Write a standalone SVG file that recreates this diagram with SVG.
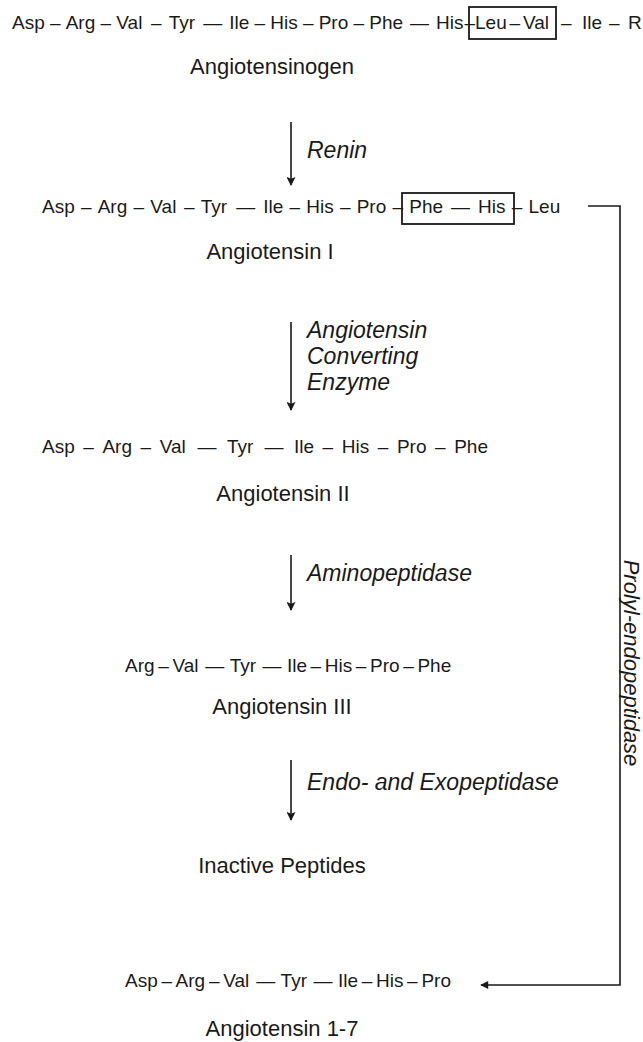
<svg xmlns="http://www.w3.org/2000/svg" width="643" height="1042" viewBox="0 0 643 1042">
<style>
.seq{font-family:"Liberation Sans",Arial,sans-serif;font-size:19px;fill:#1a1a1a}
.name{font-family:"Liberation Sans",Arial,sans-serif;font-size:22px;fill:#1a1a1a;text-anchor:middle}
.enz{font-family:"Liberation Sans",Arial,sans-serif;font-size:23px;font-style:italic;fill:#1a1a1a}
.vert{font-family:"Liberation Sans",Arial,sans-serif;font-size:22px;font-style:italic;fill:#1a1a1a;text-anchor:middle}
.ln{stroke:#1a1a1a;stroke-width:1.6;fill:none}
.box{stroke:#1a1a1a;stroke-width:1.8;fill:none}
</style>
<defs>
<marker id="ah" viewBox="0 0 10 10" refX="9" refY="5" markerWidth="15" markerHeight="9" markerUnits="userSpaceOnUse" orient="auto">
<path d="M0,0 L10,5 L0,10 L2,5 z" fill="#1a1a1a"/>
</marker>
<marker id="ah2" viewBox="0 0 10 10" refX="9" refY="5" markerWidth="18" markerHeight="8" markerUnits="userSpaceOnUse" orient="auto">
<path d="M0,0 L10,5 L0,10 z" fill="#1a1a1a"/>
</marker>
</defs>
<g id="angiotensinogen">
<text class="seq" y="29"><tspan x="12">Asp</tspan><tspan x="49.9">–</tspan><tspan x="65.7">Arg</tspan><tspan x="100.5">–</tspan><tspan x="116.3">Val</tspan><tspan x="151">–</tspan><tspan x="168.8">Tyr</tspan><tspan x="203.2">—</tspan><tspan x="229.2">Ile</tspan><tspan x="254.5">–</tspan><tspan x="270.3">His</tspan><tspan x="302.9">–</tspan><tspan x="318.7">Pro</tspan><tspan x="353.5">–</tspan><tspan x="369.3">Phe</tspan><tspan x="410.1">—</tspan><tspan x="436.1">His</tspan><tspan x="464.5">–</tspan><tspan x="475">Leu</tspan><tspan x="509.5">–</tspan><tspan x="523">Val</tspan><tspan x="561">–</tspan><tspan x="582">Ile</tspan><tspan x="609">–</tspan><tspan x="628">R</tspan></text>
<rect class="box" x="469" y="7" width="87" height="32"/>
<text class="name" x="272" y="74">Angiotensinogen</text>
</g>
<g id="angiotensin1">
<text class="seq" y="213"><tspan x="42">Asp</tspan><tspan x="80.9">–</tspan><tspan x="97.7">Arg</tspan><tspan x="133.5">–</tspan><tspan x="150.3">Val</tspan><tspan x="184">–</tspan><tspan x="200.8">Tyr</tspan><tspan x="236.2">—</tspan><tspan x="263.2">Ile</tspan><tspan x="289.5">–</tspan><tspan x="306.3">His</tspan><tspan x="339.9">–</tspan><tspan x="356.7">Pro</tspan><tspan x="392.5">–</tspan><tspan x="409.3">Phe</tspan><tspan x="451.1">—</tspan><tspan x="478.1">His</tspan><tspan x="511.7">–</tspan><tspan x="528.5">Leu</tspan></text>
<rect class="box" x="402" y="193" width="112" height="31"/>
<text class="name" x="270" y="259">Angiotensin I</text>
</g>
<g id="angiotensin2">
<text class="seq" y="453"><tspan x="42">Asp</tspan><tspan x="83.3">–</tspan><tspan x="102.4">Arg</tspan><tspan x="140.6">–</tspan><tspan x="159.7">Val</tspan><tspan x="197.5">—</tspan><tspan x="226.9">Tyr</tspan><tspan x="264.6">—</tspan><tspan x="294">Ile</tspan><tspan x="322.6">–</tspan><tspan x="341.8">His</tspan><tspan x="377.8">–</tspan><tspan x="396.9">Pro</tspan><tspan x="435">–</tspan><tspan x="454.2">Phe</tspan></text>
<text class="name" x="283" y="501">Angiotensin II</text>
</g>
<g id="angiotensin3">
<text class="seq" y="672"><tspan x="125">Arg</tspan><tspan x="158.2">–</tspan><tspan x="172.4">Val</tspan><tspan x="205.3">—</tspan><tspan x="229.7">Tyr</tspan><tspan x="262.5">—</tspan><tspan x="286.9">Ile</tspan><tspan x="310.6">–</tspan><tspan x="324.8">His</tspan><tspan x="355.8">–</tspan><tspan x="370">Pro</tspan><tspan x="403.2">–</tspan><tspan x="417.4">Phe</tspan></text>
<text class="name" x="282" y="714">Angiotensin III</text>
</g>
<g id="inactive">
<text class="name" x="282" y="873">Inactive Peptides</text>
</g>
<g id="angiotensin17">
<text class="seq" y="987"><tspan x="125">Asp</tspan><tspan x="161.4">–</tspan><tspan x="175.6">Arg</tspan><tspan x="208.9">–</tspan><tspan x="223.2">Val</tspan><tspan x="256.2">—</tspan><tspan x="280.6">Tyr</tspan><tspan x="313.5">—</tspan><tspan x="338">Ile</tspan><tspan x="361.8">–</tspan><tspan x="376">His</tspan><tspan x="407.1">–</tspan><tspan x="421.4">Pro</tspan></text>
<text class="name" x="282" y="1036">Angiotensin 1-7</text>
</g>
<g id="connectors">
<line class="ln" x1="291" y1="122" x2="291" y2="185" marker-end="url(#ah)"/>
<text class="enz" x="307" y="158">Renin</text>
<line class="ln" x1="291" y1="322" x2="291" y2="410" marker-end="url(#ah)"/>
<text class="enz" x="307" y="338"><tspan x="307">Angiotensin</tspan><tspan x="307" dy="25.8">Converting</tspan><tspan x="307" dy="25.8">Enzyme</tspan></text>
<line class="ln" x1="291" y1="555" x2="291" y2="610" marker-end="url(#ah)"/>
<text class="enz" x="307" y="581">Aminopeptidase</text>
<line class="ln" x1="291" y1="760" x2="291" y2="820" marker-end="url(#ah)"/>
<text class="enz" x="307" y="790">Endo- and Exopeptidase</text>
<polyline class="ln" points="588,206 620,206 620,985 481,985" marker-end="url(#ah2)"/>
<text class="vert" transform="translate(624,663) rotate(90)">Prolyl-endopeptidase</text>
</g>
</svg>
